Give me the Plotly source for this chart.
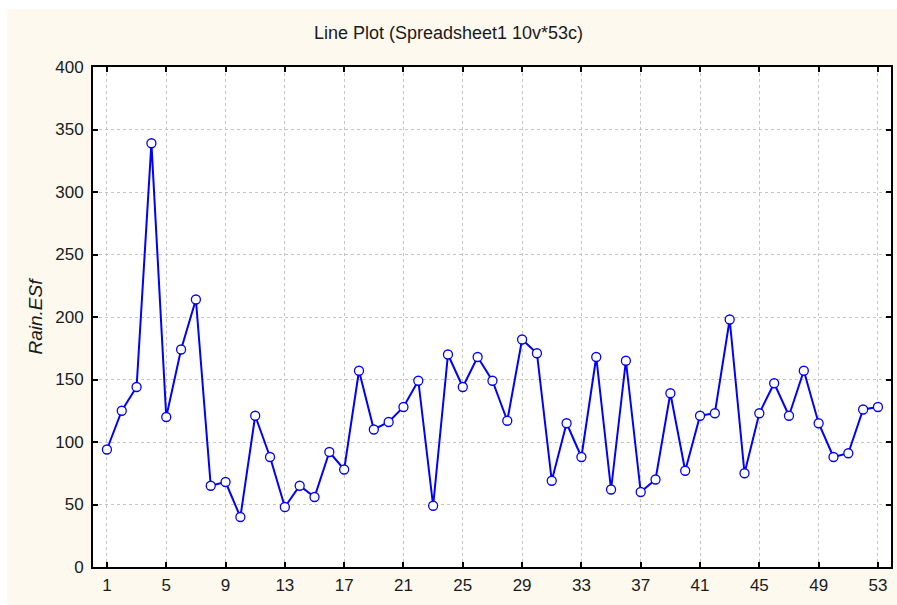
import plotly.graph_objects as go

case_no = list(range(1, 54))
rain_esf = [
    94, 125, 144, 339, 120, 174, 214, 65, 68, 40,
    121, 88, 48, 65, 56, 92, 78, 157, 110, 116,
    128, 149, 49, 170, 144, 168, 149, 117, 182, 171,
    69, 115, 88, 168, 62, 165, 60, 70, 139, 77,
    121, 123, 198, 75, 123, 147, 121, 157, 115, 88,
    91, 126, 128,
]
x_ticks = list(range(1, 54, 4))
y_ticks = list(range(0, 401, 50))

CREAM = "#FDF9EF"
FONT = "Liberation Sans, Arial, sans-serif"
W, H = 897, 605

fig = go.Figure()
fig.add_trace(
    go.Scatter(
        x=case_no,
        y=rain_esf,
        mode="lines+markers",
        line=dict(color="#0000FF", width=2),
        marker=dict(symbol="circle", size=9, color="white", line=dict(color="#0000FF", width=1.3)),
        showlegend=False,
    )
)

# cream panel with a thin white edge at top/left, white plot area on top of it
fig.add_shape(type="rect", xref="paper", yref="paper", x0=-86 / 800, x1=1.02, y0=-0.1, y1=558 / 500,
              fillcolor=CREAM, line_width=0, layer="below")
fig.add_shape(type="rect", xref="x domain", yref="y domain", x0=0, x1=1, y0=0, y1=1,
              fillcolor="white", line_width=0, layer="below")

axis_common = dict(
    showline=True,
    linecolor="black",
    linewidth=2,
    mirror="ticks",
    ticks="inside",
    ticklen=5,
    tickwidth=2,
    tickcolor="black",
    showgrid=True,
    gridcolor="#C4C4C4",
    griddash="dot",
    gridwidth=1,
    zeroline=False,
    tickfont=dict(family=FONT, size=17, color="#1a1a1a"),
)

fig.update_xaxes(range=[0.06, 53.88], tickvals=x_ticks, ticklabelstandoff=2, **axis_common)
fig.update_yaxes(
    range=[0, 400],
    tickvals=y_ticks,
    ticklabelstandoff=4,
    title=dict(text="<i>Rain.ESf</i>", font=dict(family=FONT, size=19, color="#1a1a1a"), standoff=8),
    **axis_common,
)

fig.update_layout(
    width=W,
    height=H,
    autosize=False,
    margin=dict(l=93, r=4, t=67, b=38),
    paper_bgcolor="white",
    plot_bgcolor="white",
    title=dict(
        text="Line Plot (Spreadsheet1 10v*53c)",
        x=0.5,
        xanchor="center",
        y=1 - 33 / H,
        yanchor="middle",
        font=dict(family=FONT, size=18, color="#1a1a1a"),
    ),
)

fig.write_html(
    "out.html",
    config={"responsive": False, "displayModeBar": False},
    post_script="document.body.style.margin='0';document.body.style.overflow='hidden';",
)
